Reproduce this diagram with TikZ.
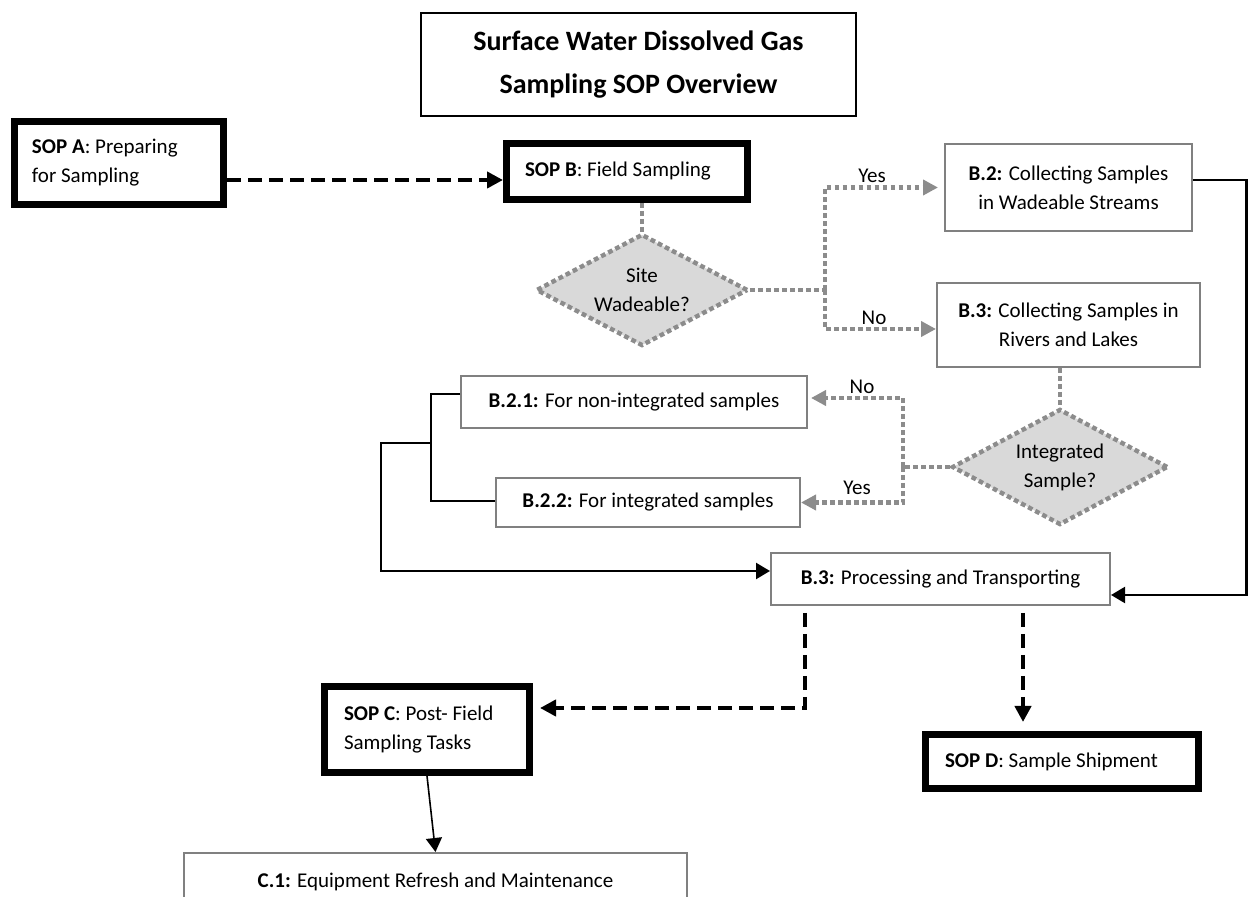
\documentclass[tikz,border=0pt]{standalone}
\usepackage{fontspec}
\setmainfont{Carlito}
\usetikzlibrary{arrows.meta,shapes.geometric,calc}
\definecolor{boxgray}{HTML}{808080}
\definecolor{dotgray}{HTML}{8C8C8C}
\definecolor{diafill}{HTML}{D9D9D9}
\begin{document}
\begin{tikzpicture}[x=0.5pt,y=-0.5pt,
  every node/.append style={font=\fontsize{10.5}{14.5}\selectfont, inner sep=0pt},
  titlebox/.style={draw=black, line width=1pt, align=center, font=\fontsize{14}{21.5}\selectfont\bfseries},
  thickbox/.style={draw=black, line width=3.5pt, rectangle, align=flush left},
  graybox/.style={draw=boxgray, line width=1pt, rectangle, align=center},
  decision/.style={diamond, aspect=2, draw=dotgray, fill=diafill, line width=2.2pt, dash pattern=on 2.4pt off 1.6pt, align=center},
  dotline/.style={draw=dotgray, line width=2.2pt, dash pattern=on 2.4pt off 1.6pt},
  dotarrow/.style={dotline, -{Triangle[length=7.5pt,width=7.5pt]}},
  dasharrow/.style={draw=black, line width=2.4pt, dash pattern=on 7pt off 3.5pt, -{Triangle[length=8pt,width=8pt]}},
  solidline/.style={draw=black, line width=1.1pt},
  solidarrow/.style={solidline, -{Triangle[length=7pt,width=8pt]}},
  thinarrow/.style={draw=black, line width=0.8pt, -{Triangle[length=7pt,width=8pt]}}
]
\useasboundingbox (0,0) rectangle (1248,897);
\clip (0,0) rectangle (1248,897);

% nodes
\node[titlebox, minimum width=217.5pt, minimum height=51.5pt] (title) at (638.5,64.5) {Surface Water Dissolved Gas\\Sampling SOP Overview};
\node[thickbox, text width=87pt, inner xsep=8.75pt, minimum height=41.5pt] (sopa) at (119,163) {\textbf{SOP A}: Preparing\\for Sampling};
\node[thickbox, text width=102pt, inner xsep=9.25pt, minimum height=28pt] (sopb) at (627,171.5) {\textbf{SOP B}: Field Sampling};
\node[decision, minimum width=106pt, minimum height=56pt] (site) at (642,290) {Site\\Wadeable?};
\node[graybox, minimum width=123.5pt, minimum height=43.5pt] (b2) at (1068.5,187.5) {\textbf{B.2:} Collecting Samples\\in Wadeable Streams};
\node[graybox, minimum width=131.5pt, minimum height=42pt] (b3) at (1068.5,325) {\textbf{B.3:} Collecting Samples in\\Rivers and Lakes};
\node[decision, minimum width=108pt, minimum height=58pt] (int) at (1060,467) {Integrated\\Sample?};
\node[graybox, minimum width=173pt, minimum height=26pt] (b21) at (634,402) {\textbf{B.2.1:} For non-integrated samples};
\node[graybox, minimum width=152pt, minimum height=24.5pt] (b22) at (648,502.5) {\textbf{B.2.2:} For integrated samples};
\node[graybox, minimum width=169.5pt, minimum height=26pt] (proc) at (940.5,579) {\textbf{B.3:} Processing and Transporting};
\node[thickbox, text width=83pt, inner xsep=9.75pt, minimum height=43pt] (sopc) at (427,729.5) {\textbf{SOP C}: Post- Field\\Sampling Tasks};
\node[thickbox, text width=117pt, inner xsep=9.75pt, minimum height=27pt] (sopd) at (1062,761.5) {\textbf{SOP D}: Sample Shipment};
\node[graybox, minimum width=251.5pt, minimum height=29pt] (c1) at (435.5,882) {\textbf{C.1:} Equipment Refresh and Maintenance};

% labels
\node (ly1) at (872,176) {Yes};
\node (ln1) at (874,318) {No};
\node (ln2) at (862,387) {No};
\node (ly2) at (857,488) {Yes};

% connectors
\coordinate (ab) at (0,180);
\draw[dasharrow] (sopa.east |- ab) -- (sopb.west |- ab);

\draw[dotline] (sopb.south -| site.north) -- (site.north);
\coordinate (sj) at (825,290);
\draw[dotline] (site.east) -- (sj);
\draw[dotarrow, shorten >=3pt] (sj) |- (b2.west);
\coordinate (nob3) at (0,329);
\draw[dotarrow] (sj) |- (b3.west |- nob3);

\draw[dotline] (b3.south -| int.north) -- (int.north);
\coordinate (ij) at (903,467);
\draw[dotline] (int.west) -- (ij);
\coordinate (nob21) at (0,398);
\draw[dotarrow, shorten >=1.5pt] (ij) |- (b21.east |- nob21);
\draw[dotarrow] (ij) |- (b22.east);

\coordinate (k1) at (431,394);
\coordinate (k2) at (431,501);
\draw[solidline] (b21.west |- k1) -- (k1) -- (k2) -- (b22.west |- k2);
\coordinate (k3) at (431,443);
\coordinate (k4) at (381,443);
\coordinate (k5) at (381,571);
\draw[solidarrow] (k3) -- (k4) -- (k5) -- (proc.west |- k5);

\coordinate (r1) at (1246.5,180);
\coordinate (r2) at (1246.5,595);
\draw[solidarrow] (b2.east |- r1) -- (r1) -- (r2) -- (proc.east |- r2);

\coordinate (pc) at (805,708);
\draw[dasharrow, shorten <=3.5pt, shorten >=3.5pt] (proc.south -| pc) -- (pc) -- (sopc.east |- pc);
\coordinate (pd) at (1023,0);
\draw[dasharrow, shorten <=3.5pt, shorten >=4.5pt] (proc.south -| pd) -- (sopd.north -| pd);

\draw[thinarrow] (sopc.south) -- (c1.north);
\end{tikzpicture}
\end{document}
